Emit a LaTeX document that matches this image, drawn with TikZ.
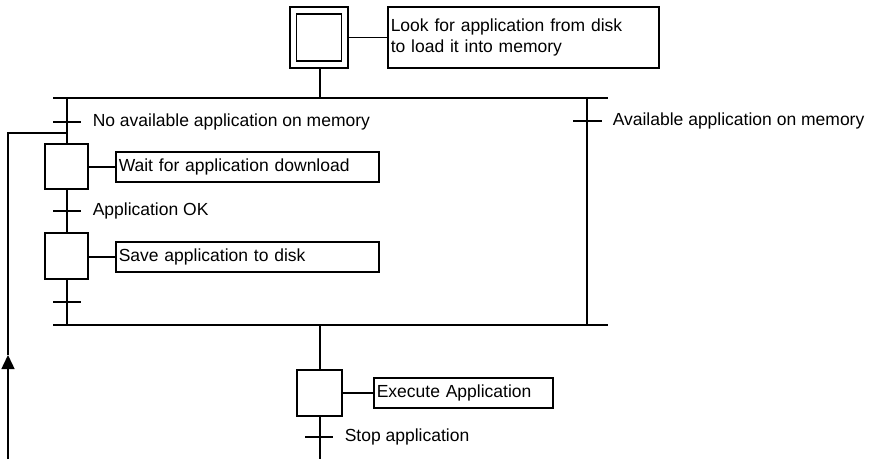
\documentclass[tikz,border=0pt]{standalone}
\usepackage{fontspec}
\setmainfont{Liberation Sans}
\usetikzlibrary{arrows.meta}
\begin{document}
\begin{tikzpicture}[x=1pt,y=1pt,
  every path/.style={line width=1.5pt},
  stepbox/.style={draw,line width=1.5pt,rectangle,minimum width=43pt,minimum height=45pt,inner sep=0pt},
  actbox/.style={draw,line width=1.5pt,rectangle,anchor=west,minimum height=30pt,inner sep=3pt,align=left,font=\fontsize{17.5}{21.5}\selectfont},
  lbl/.style={anchor=west,inner sep=0pt,font=\fontsize{17.5}{21.5}\selectfont},
  tick/.style={line width=1.5pt}
]
\useasboundingbox (0,0) rectangle (875,-459);
% initial step
\node[draw,line width=1.5pt,minimum width=58pt,minimum height=61pt,inner sep=0pt] (init) at (319,-37.5) {};
\node[draw,line width=1.5pt,minimum width=45pt,minimum height=47pt,inner sep=0pt] (initin) at (319,-37.5) {};
\node[actbox,text width=265pt,minimum height=61pt] (a0) at (387,-37.5) {Look for application from disk\\to load it into memory};
\draw (init.east |- a0.west) -- (a0.west);
% top bar
\coordinate (tb) at (320,-98);
\coordinate (tbl) at (53,-98);
\coordinate (tbr) at (608,-98);
\draw (init.south -| tb) -- (tb);
\draw (tbl) -- (tbr);
% left branch
\coordinate (lb) at (67,-98);
\node[stepbox] (s1) at (66.5,-166.5) {};
\draw (lb) -- (s1.north -| lb);
\coordinate (t1) at (67,-122);
\draw (53,-122) -- (81,-122);
\node[lbl] (l1) at (92,-122) {No available application on memory};
\node[actbox,text width=257pt] (a1) at (115,-167) {Wait for application download};
\draw (s1.east |- a1.west) -- (a1.west);
\node[stepbox,minimum height=46pt] (s2) at (66.5,-256) {};
\draw (s1.south -| lb) -- (s2.north -| lb);
\draw (53,-211) -- (81,-211);
\node[lbl] (l2) at (92,-211) {Application OK};
\node[actbox,text width=257pt] (a2) at (115,-257) {Save application to disk};
\draw (s2.east |- a2.west) -- (a2.west);
\coordinate (bl) at (67,-325);
\draw (s2.south -| lb) -- (bl);
\draw (53,-302) -- (81,-302);
% feedback
\coordinate (fb0) at (8,-459);
\coordinate (fbA) at (8,-355);
\coordinate (fb1) at (8,-133);
\coordinate (fb2) at (67,-133);
\draw[-{Triangle[width=13pt,length=14pt]}] (fb0) -- (fbA);
\draw (fbA) -- (fb1) -- (fb2);
% right branch
\coordinate (rb) at (587,-98);
\coordinate (rbb) at (587,-325);
\draw (rb) -- (rbb);
\draw (573,-121) -- (602,-121);
\node[lbl] (l3) at (612,-121) {Available application on memory};
% bottom bar
\coordinate (bbl) at (53,-325);
\coordinate (bbr) at (608,-325);
\coordinate (bb) at (320,-325);
\draw (bbl) -- (bbr);
% final step
\node[stepbox,minimum width=45pt,minimum height=46pt] (s3) at (319.5,-393) {};
\draw (bb) -- (s3.north -| bb);
\node[actbox,text width=173pt] (a3) at (373,-393) {Execute Application};
\draw (s3.east |- a3.west) -- (a3.west);
\coordinate (end) at (320,-459);
\draw (s3.south -| bb) -- (end);
\draw (305,-437) -- (333,-437);
\node[lbl] (l4) at (344,-437) {Stop application};
\end{tikzpicture}
\end{document}
